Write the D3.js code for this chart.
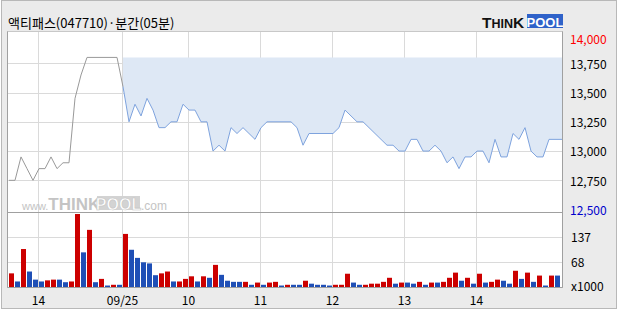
<!DOCTYPE html>
<html>
<head>
<meta charset="utf-8">
<script src="https://cdn.jsdelivr.net/npm/d3@7"></script>
<style>
  body { margin: 0; background: #fff; }
  svg { display: block; font-family: "Noto Sans CJK KR", "Noto Sans", sans-serif; }
</style>
</head>
<body>
<div id="chart"></div>
<script>
// 5분봉 종가 (원)
var prices = [12750, 12750, 12950, 12850, 12750, 12850, 12850, 12950, 12850, 12900,
  12900, 13450, 13650, 13800, 13800, 13800, 13800, 13800, 13800, 13550,
  13250, 13400, 13300, 13450, 13350, 13200, 13200, 13250, 13250, 13400,
  13350, 13350, 13250, 13250, 13000, 13050, 13000, 13200, 13150, 13200,
  13150, 13100, 13200, 13250, 13250, 13250, 13250, 13250, 13200, 13050,
  13150, 13150, 13150, 13150, 13150, 13200, 13350, 13300, 13250, 13250,
  13200, 13150, 13100, 13050, 13050, 13000, 13000, 13100, 13100, 13000,
  13000, 13050, 13000, 12900, 12950, 12850, 12950, 12950, 13000, 13000,
  12900, 13100, 12950, 12950, 13150, 13100, 13200, 13000, 12950, 12950,
  13100, 13100];

// 거래량 (x1000)
var volumes = [37, 15, 103, 42, 20, 15, 18, 20, 20, 13,
  15, 198, 94, 155, 13, 22, 4, 6, 6, 144,
  101, 79, 67, 64, 32, 37, 42, 15, 15, 22,
  29, 15, 29, 25, 60, 33, 17, 14, 14, 14,
  6, 12, 6, 12, 14, 4, 6, 6, 6, 17,
  9, 6, 6, 4, 6, 6, 36, 12, 6, 6,
  9, 9, 14, 25, 9, 12, 12, 9, 14, 6,
  12, 12, 14, 25, 39, 17, 25, 9, 36, 12,
  14, 20, 17, 9, 44, 22, 39, 14, 31, 4,
  31, 31];

// 1 = 상승(빨강), 0 = 하락(파랑)
var volUp = [1, 0, 1, 0, 0, 0, 1, 1, 0, 0,
  1, 1, 0, 1, 0, 1, 0, 1, 0, 1,
  0, 0, 0, 0, 0, 1, 1, 0, 1, 1,
  1, 0, 1, 0, 1, 0, 0, 0, 0, 1,
  0, 1, 0, 1, 1, 0, 1, 0, 0, 1,
  0, 0, 0, 0, 1, 1, 1, 0, 0, 1,
  1, 1, 1, 1, 0, 1, 0, 0, 1, 0,
  1, 0, 1, 1, 1, 0, 1, 0, 1, 0,
  1, 1, 0, 0, 1, 0, 1, 0, 1, 0,
  1, 0];

var priceTicks = [12500, 12750, 13000, 13250, 13500, 13750, 14000];
var volTicks = [68, 137];
var timeLabels = ["14", "09/25", "10", "11", "12", "13", "14"];
var timeIndex = [5, 19, 30, 42, 54, 66, 78];
var todayStart = 19;

var W = 620, H = 310;
var plot = {left: 7.5, right: 562.5, top: 31.5, split: 212.5, bottom: 287.5};

var svg = d3.select("#chart")
    .append("svg")
    .attr("width", W)
    .attr("height", H);

// 바깥 배경
svg.append("rect")
    .attr("x", 1.5).attr("y", 0.5)
    .attr("width", 615).attr("height", 308)
    .attr("fill", "#ebebeb")
    .attr("stroke", "#b8b8b8");

svg.append("rect")
    .attr("x", plot.left).attr("y", plot.top)
    .attr("width", plot.right - plot.left).attr("height", plot.bottom - plot.top)
    .attr("fill", "#fff");

var x = d3.scaleBand()
    .domain(d3.range(prices.length))
    .range([8, 8 + 6 * prices.length]);

var y = d3.scaleLinear()
    .domain([12500, 14000])
    .range([209.6, 34]);

var yv = d3.scaleLinear()
    .domain([0, 137])
    .range([287, 236.5]);

// 격자
var grid = svg.append("g").attr("stroke", "#dadada").attr("stroke-width", 1);
grid.selectAll(".hp")
    .data(priceTicks.slice(1, -1))
    .enter().append("line")
    .attr("x1", plot.left).attr("x2", plot.right)
    .attr("y1", function(d) { return Math.round(y(d)) + 0.5; })
    .attr("y2", function(d) { return Math.round(y(d)) + 0.5; });
grid.selectAll(".hv")
    .data(volTicks)
    .enter().append("line")
    .attr("x1", plot.left).attr("x2", plot.right)
    .attr("y1", function(d) { return Math.round(yv(d)) + 0.5; })
    .attr("y2", function(d) { return Math.round(yv(d)) + 0.5; });
grid.selectAll(".vx")
    .data(timeIndex)
    .enter().append("line")
    .attr("x1", function(d) { return x(d) + 0.5; })
    .attr("x2", function(d) { return x(d) + 0.5; })
    .attr("y1", plot.top).attr("y2", plot.bottom);

// 워터마크
var wm = svg.append("text")
    .attr("x", 22).attr("y", 209.5)
    .attr("font-family", "Liberation Sans, Arial, sans-serif")
    .attr("fill", "#c4c4c4");
wm.append("tspan").attr("font-size", 11).text("www.");
wm.append("tspan").attr("font-size", 17).attr("font-weight", "bold").text("THINK");
svg.append("rect")
    .attr("x", 97).attr("y", 196)
    .attr("width", 43).attr("height", 14)
    .attr("fill", "#d3d3d3");
svg.append("text")
    .attr("x", 118.5).attr("y", 209.5)
    .attr("text-anchor", "middle")
    .attr("font-family", "Liberation Sans, Arial, sans-serif")
    .attr("font-size", 16).attr("font-weight", "bold")
    .attr("fill", "#fff").attr("stroke", "#c4c4c4").attr("stroke-width", 0.6)
    .text("POOL");
svg.append("text")
    .attr("x", 141).attr("y", 209.5)
    .attr("font-family", "Liberation Sans, Arial, sans-serif")
    .attr("font-size", 12).attr("fill", "#c4c4c4")
    .text(".com");

// 당일 영역
var px = function(i) { return x(i) + 1; };
var today = d3.range(todayStart, prices.length);
var tail = x.range()[1] + 2;
var topLevel = d3.max(prices);

var area = d3.area()
    .x(function(d) { return d.x; })
    .y0(y(topLevel))
    .y1(function(d) { return y(d.p); });
var todayPts = today.map(function(i) { return {x: px(i), p: prices[i]}; });
todayPts.push({x: tail, p: prices[prices.length - 1]});

svg.append("path")
    .datum(todayPts)
    .attr("fill", "#dee8f5")
    .attr("d", area);

var line = d3.line()
    .x(function(d) { return d.x; })
    .y(function(d) { return y(d.p); });

var prevPts = d3.range(0, todayStart + 1).map(function(i) { return {x: px(i), p: prices[i]}; });
svg.append("path")
    .datum(prevPts)
    .attr("fill", "none")
    .attr("stroke", "#999")
    .attr("stroke-width", 1)
    .attr("d", line);

svg.append("path")
    .datum(todayPts)
    .attr("fill", "none")
    .attr("stroke", "#7ea3de")
    .attr("stroke-width", 1)
    .attr("d", line);

// 거래량
svg.selectAll(".vol")
    .data(volumes)
    .enter().append("rect")
    .attr("x", function(d, i) { return x(i) + 1; })
    .attr("width", x.bandwidth() - 1)
    .attr("y", function(d) { return yv(d); })
    .attr("height", function(d) { return yv(0) - yv(d); })
    .attr("fill", function(d, i) { return volUp[i] ? "#cc0000" : "#1f4fb6"; });

// 테두리
var border = svg.append("g").attr("stroke", "#a0a0a0").attr("fill", "none");
border.append("rect")
    .attr("x", plot.left).attr("y", plot.top)
    .attr("width", plot.right - plot.left).attr("height", plot.bottom - plot.top)
    .attr("stroke", "#c8c8c8");
border.append("line")
    .attr("x1", plot.left).attr("x2", plot.right)
    .attr("y1", plot.split).attr("y2", plot.split);
border.append("line")
    .attr("x1", plot.left).attr("x2", plot.right)
    .attr("y1", plot.bottom).attr("y2", plot.bottom);
border.append("line")
    .attr("x1", plot.left).attr("x2", plot.left)
    .attr("y1", plot.top).attr("y2", plot.bottom);
border.append("line")
    .attr("x1", plot.right).attr("x2", plot.right)
    .attr("y1", plot.top).attr("y2", plot.bottom);

// 가격 축
var yAxis = svg.append("g")
    .attr("transform", "translate(570,1)")
    .call(d3.axisRight(y).tickValues(priceTicks).tickSize(0).tickPadding(0)
      .tickFormat(d3.format(",")));
yAxis.select(".domain").remove();
yAxis.selectAll("text")
    .attr("font-size", 12)
    .attr("font-family", "\"Noto Sans CJK KR\", sans-serif")
    .attr("fill", function(d) { return d === 14000 ? "#ff0000" : d === 12500 ? "#0000cc" : "#000"; });
yAxis.selectAll(".tick")
    .filter(function(d) { return d === 14000; })
    .attr("transform", "translate(0," + (plot.top + 7.5) + ")");

// 거래량 축
var vAxis = svg.append("g")
    .attr("transform", "translate(571,1)")
    .call(d3.axisRight(yv).tickValues(volTicks).tickSize(0).tickPadding(0));
vAxis.select(".domain").remove();
vAxis.selectAll("text")
    .attr("font-size", 12)
    .attr("font-family", "\"Noto Sans CJK KR\", sans-serif")
    .attr("fill", "#000");
svg.append("text")
    .attr("x", 571).attr("y", yv(0) + 4)
    .attr("font-size", 12)
    .text("x1000");

// 시간 축
svg.selectAll(".xl")
    .data(timeIndex)
    .enter().append("text")
    .attr("x", function(d) { return x(d) + 0.5; })
    .attr("y", 305)
    .attr("text-anchor", "middle")
    .attr("font-size", 12)
    .text(function(d, i) { return timeLabels[i]; });

// 제목
svg.append("text")
    .attr("x", 8).attr("y", 27.5)
    .attr("font-size", 13)
    .text("액티패스(047710)·분간(05분)");

// 로고
var logo = svg.append("text")
    .attr("x", 482).attr("y", 27.5)
    .attr("font-family", "Liberation Sans, Arial, sans-serif")
    .attr("font-weight", "bold")
    .attr("fill", "#111");
logo.append("tspan").attr("font-size", 15.5).text("T");
logo.append("tspan").attr("font-size", 12.5).text("HIN");
logo.append("tspan").attr("font-size", 15.5).text("K");
svg.append("rect")
    .attr("x", 527).attr("y", 14)
    .attr("width", 36).attr("height", 14)
    .attr("fill", "#2f62c9");
svg.append("text")
    .attr("x", 545).attr("y", 26.5)
    .attr("text-anchor", "middle")
    .attr("font-family", "Liberation Sans, Arial, sans-serif")
    .attr("font-size", 13).attr("font-weight", "bold")
    .attr("fill", "#fff")
    .text("POOL");
</script>
</body>
</html>
